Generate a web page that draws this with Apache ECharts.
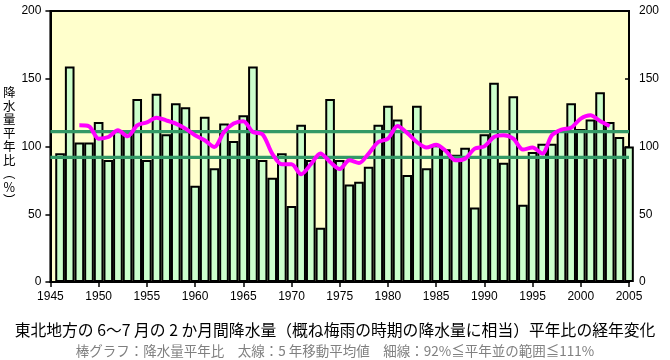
<!DOCTYPE html>
<html>
<head>
<meta charset="utf-8">
<script src="https://cdn.jsdelivr.net/npm/echarts@6/dist/echarts.min.js"></script>
<style>
html,body{margin:0;padding:0;background:#fff;}
#chart{width:670px;height:360px;}
</style>
</head>
<body>
<div id="chart"></div>
<script>
// Years of the bars
const years = [1946,1947,1948,1949,1950,1951,1952,1953,1954,1955,
  1956,1957,1958,1959,1960,1961,1962,1963,1964,1965,
  1966,1967,1968,1969,1970,1971,1972,1973,1974,1975,
  1976,1977,1978,1979,1980,1981,1982,1983,1984,1985,
  1986,1987,1988,1989,1990,1991,1992,1993,1994,1995,
  1996,1997,1998,1999,2000,2001,2002,2003,2004,2005];
// 降水量平年比 (%)
const ratio = [95,159,103,103,118,90,112,111,135,90,
  139,109,132,129,71,122,84,117,104,123,
  159,90,77,95,56,116,90,40,135,90,
  72,74,85,116,130,120,79,130,84,101,
  98,94,99,55,109,147,88,137,57,96,
  102,102,112,132,113,120,140,118,107,100];
// 5年移動平均値 (centre years 1948-2003)
const maYears = [1948,1949,1950,1951,1952,1953,1954,1955,1956,1957,
  1958,1959,1960,1961,1962,1963,1964,1965,1966,1967,
  1968,1969,1970,1971,1972,1973,1974,1975,1976,1977,
  1978,1979,1980,1981,1982,1983,1984,1985,1986,1987,
  1988,1989,1990,1991,1992,1993,1994,1995,1996,1997,
  1998,1999,2000,2001,2002,2003];
const movingAvg = [115.6,114.9,105.8,107,112,107.5,115.6,117.8,121.3,119.3,
  116.9,113.2,108.3,104.6,99.6,110.7,116.9,118.7,110.7,109,
  94.8,86.9,86.9,79.5,86.9,94.8,88.6,83.4,89.8,87.8,
  94.8,103.3,105.8,115.1,110,103.3,99.2,101.2,96.7,89.8,
  91,98.4,100.1,107,108.3,105.8,97.7,99.2,94.8,108.3,
  112.5,113.9,120.6,123,118.8,115.1];
// 平年並の範囲
const normalLow = 92;
const normalHigh = 111;
// Axis ticks
const xTicks = {min: 1945, max: 2005, interval: 5};
const yTicks = {min: 0, max: 200, interval: 50};
const yTitle = '降水量平年比（%）';
const mainTitle = '東北地方の 6～7 月の 2 か月間降水量（概ね梅雨の時期の降水量に相当）平年比の経年変化';
const subTitle = '棒グラフ：降水量平年比　太線：5 年移動平均値　細線：92%≦平年並の範囲≦111%';

const verticalName = yTitle.replace('（','︵').replace('）','︶').split('').join('\n');

const chart = echarts.init(document.getElementById('chart'), null, {renderer: 'canvas'});
const labelFont = {fontFamily: 'Liberation Sans, Arial, sans-serif', fontSize: 12, color: '#000'};
const plain = v => String(v);

chart.setOption({
  animation: false,
  backgroundColor: '#fff',
  title: [
    {text: mainTitle, left: 'center', top: 317,
     textStyle: {fontFamily: 'Noto Sans CJK JP', fontSize: 15.8, fontWeight: 'normal', color: '#000'}},
    {text: subTitle, left: 'center', top: 339,
     textStyle: {fontFamily: 'Noto Sans CJK JP', fontSize: 13.5, fontWeight: 'normal', color: '#808080'}}
  ],
  grid: {left: 50, top: 11, width: 579, height: 271, show: true,
         backgroundColor: '#FFFFCC', borderColor: '#000', borderWidth: 2},
  xAxis: {type: 'value', min: xTicks.min, max: xTicks.max, interval: xTicks.interval,
    splitLine: {show: false},
    axisLine: {show: true, lineStyle: {color: '#000', width: 2}},
    axisTick: {show: true, inside: false, length: 5, lineStyle: {color: '#000', width: 1.5}},
    axisLabel: Object.assign({margin: 9, formatter: plain}, labelFont)},
  yAxis: [
    {type: 'value', min: yTicks.min, max: yTicks.max, interval: yTicks.interval,
     name: verticalName, nameLocation: 'middle', nameGap: 37, nameRotate: 0,
     nameTextStyle: {fontFamily: 'Noto Sans CJK JP', fontSize: 12.5, lineHeight: 13.5, color: '#000', align: 'center', verticalAlign: 'middle'},
     splitLine: {show: false},
     axisLine: {show: true, lineStyle: {color: '#000', width: 2}},
     axisTick: {show: true, inside: false, length: 5, lineStyle: {color: '#000', width: 1.5}},
     axisLabel: Object.assign({margin: 9, formatter: plain}, labelFont)},
    {type: 'value', position: 'right', min: yTicks.min, max: yTicks.max, interval: yTicks.interval,
     splitLine: {show: false},
     axisLine: {show: true, lineStyle: {color: '#000', width: 2}},
     axisTick: {show: true, inside: true, length: 4, lineStyle: {color: '#000', width: 1.5}},
     axisLabel: Object.assign({margin: 10, formatter: plain}, labelFont)}
  ],
  series: [
    {type: 'bar', name: '降水量平年比', data: years.map((y, i) => [y, ratio[i]]),
     barWidth: 9.65, clip: true,
     itemStyle: {color: '#CCFFCC', borderColor: '#000', borderWidth: 2}, z: 2},
    {type: 'line', name: '平年並上限', data: [[xTicks.min, normalHigh], [xTicks.max, normalHigh]],
     symbol: 'none', lineStyle: {color: '#339966', width: 3.3}, z: 3},
    {type: 'line', name: '平年並下限', data: [[xTicks.min, normalLow], [xTicks.max, normalLow]],
     symbol: 'none', lineStyle: {color: '#339966', width: 3.3}, z: 3},
    {type: 'line', name: '5年移動平均', data: maYears.map((y, i) => [y, movingAvg[i]]),
     symbol: 'none', smooth: 0.3, lineStyle: {color: '#FF00FF', width: 4}, z: 4}
  ]
});
</script>
</body>
</html>
